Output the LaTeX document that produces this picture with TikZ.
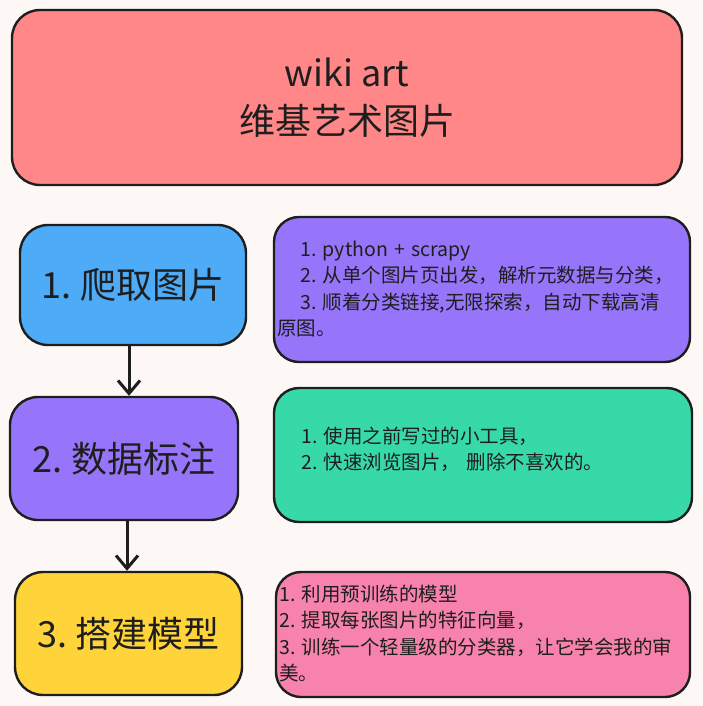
\documentclass[tikz,border=0pt]{standalone}
\usepackage{fontspec}
\setmainfont{Noto Sans CJK SC}
\frenchspacing
\usetikzlibrary{arrows.meta}
\definecolor{bg}{HTML}{FDF8F5}
\definecolor{ink}{HTML}{1E1E1E}
\definecolor{cred}{HTML}{FF8787}
\definecolor{cblue}{HTML}{4DABF7}
\definecolor{cpurple}{HTML}{9775FA}
\definecolor{cyellow}{HTML}{FFD43B}
\definecolor{cteal}{HTML}{38D9A9}
\definecolor{cpink}{HTML}{F783AC}
\begin{document}
\begin{tikzpicture}[x=1pt,y=-1pt,
  box/.style={draw=ink, line width=2.4pt, rounded corners=28pt, inner sep=0pt, text=ink},
  bigtxt/.style={font=\fontsize{36}{48}\selectfont, text=ink, align=center},
  smalltxt/.style={font=\fontsize{19.5}{26.5}\selectfont, text=ink, align=left, text width=410pt, inner sep=0pt, anchor=base west},
  arr/.style={draw=ink, line width=3pt, line cap=round, -{Straight Barb[length=13pt,width=22pt,line width=3pt]}}]
\fill[bg] (0,0) rectangle (703,706);
\useasboundingbox (0,0) rectangle (703,706);
% top
\node[box, fill=cred, minimum width=670pt, minimum height=175pt, bigtxt] (top) at (347,97.5) {wiki art\\维基艺术图片};
% left boxes
\node[box, fill=cblue, minimum width=226pt, minimum height=120pt, bigtxt] (b1) at (133,285) {1. 爬取图片};
\node[box, fill=cpurple, minimum width=228pt, minimum height=123pt, bigtxt] (b2) at (124,458.5) {2. 数据标注};
\node[box, fill=cyellow, minimum width=227pt, minimum height=123pt, bigtxt] (b3) at (128.5,633.5) {3. 搭建模型};
% right boxes
\node[box, rounded corners=25pt, fill=cpurple, minimum width=416pt, minimum height=145pt] (r1) at (482,289.5) {};
\node[box, rounded corners=25pt, fill=cteal, minimum width=418pt, minimum height=134pt] (r2) at (483,455) {};
\node[box, rounded corners=25pt, fill=cpink, minimum width=414pt, minimum height=125pt] (r3) at (483,634.5) {};
\node[smalltxt] (t1) at (277,256) {\hspace*{23pt}1. python + scrapy\\\hspace*{23pt}2. 从单个图片页出发，解析元数据与分类，\\\hspace*{23pt}3. 顺着分类链接,无限探索，自动下载高清\\原图。};
\node[smalltxt] (t2) at (301,443) {1. 使用之前写过的小工具，\\2. 快速浏览图片， 删除不喜欢的。};
\node[smalltxt] (t3) at (279,601) {1. 利用预训练的模型\\2. 提取每张图片的特征向量，\\3. 训练一个轻量级的分类器，让它学会我的审\\美。};
% arrows
\coordinate (ax1) at (129,0);
\coordinate (ax2) at (127,0);
\draw[arr] (b1.south -| ax1) -- (b2.north -| ax1);
\draw[arr] (b2.south -| ax2) -- (b3.north -| ax2);
\end{tikzpicture}
\end{document}
